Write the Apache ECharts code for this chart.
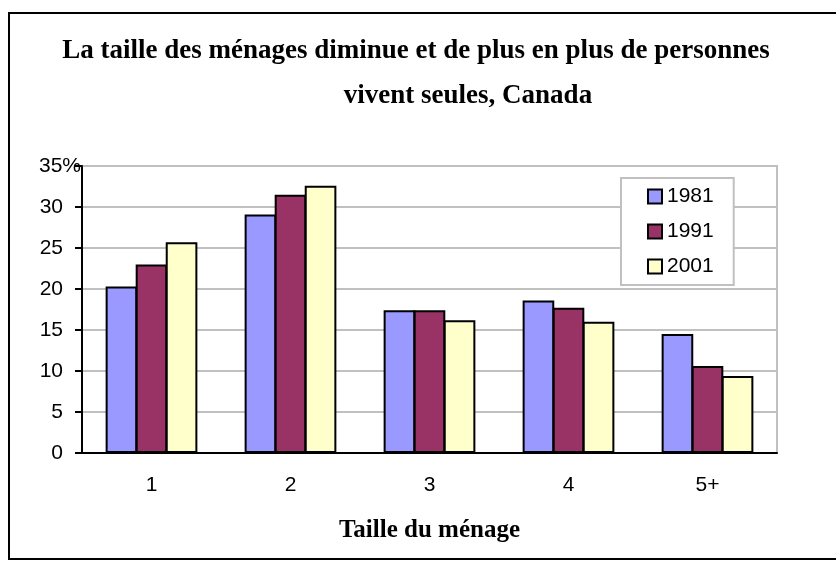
<!DOCTYPE html>
<html>
<head>
<meta charset="utf-8">
<script src="https://cdn.jsdelivr.net/npm/echarts@6/dist/echarts.min.js"></script>
<style>
  html, body { margin: 0; padding: 0; background: #fff; }
  #chart { width: 836px; height: 561px; }
</style>
</head>
<body>
<div id="chart"></div>
<script>
const categories = ['1', '2', '3', '4', '5+']
const years = ['1981', '1991', '2001']
const values1981 = [20.3, 29.1, 17.4, 18.6, 14.5]
const values1991 = [23.0, 31.5, 17.4, 17.7, 10.6]
const values2001 = [25.7, 32.6, 16.2, 16.0, 9.4]
const yTicks = [0, 5, 10, 15, 20, 25, 30, 35]

const colors = ['#9999ff', '#993366', '#ffffcc']
const serif = '"Liberation Serif", "Times New Roman", serif'
const sans = '"Liberation Sans", Arial, sans-serif'

const chart = echarts.init(document.getElementById('chart'))

const makeSeries = (name, data, i) => ({
  name: name,
  type: 'bar',
  data: data,
  barGap: '-5%',
  barCategoryGap: '34%',
  itemStyle: { color: colors[i], borderColor: '#000', borderWidth: 2 },
  emphasis: { disabled: true }
})

chart.setOption({
  animation: false,
  backgroundColor: '#fff',
  graphic: [
    {
      type: 'rect',
      shape: { x: 9, y: 13, width: 832, height: 546 },
      style: { fill: 'none', stroke: '#000', lineWidth: 2 },
      silent: true
    },
    {
      type: 'text',
      x: 416, y: 51,
      style: {
        text: 'La taille des ménages diminue et de plus en plus de personnes',
        font: 'bold 27px ' + serif,
        fill: '#000', align: 'center', verticalAlign: 'middle'
      }
    },
    {
      type: 'text',
      x: 468, y: 96,
      style: {
        text: 'vivent seules, Canada',
        font: 'bold 27px ' + serif,
        fill: '#000', align: 'center', verticalAlign: 'middle'
      }
    }
  ],
  legend: {
    orient: 'vertical',
    left: 621,
    top: 178,
    padding: [8, 20, 8, 26],
    itemGap: 14,
    itemWidth: 14,
    itemHeight: 14,
    icon: 'rect',
    backgroundColor: '#fff',
    borderColor: '#c0c0c0',
    borderWidth: 2,
    borderRadius: 0,
    data: years,
    textStyle: { fontFamily: sans, fontSize: 21, color: '#000' }
  },
  grid: {
    left: 82, right: 59, top: 166, bottom: 108,
    show: true, borderColor: '#c0c0c0', borderWidth: 2
  },
  xAxis: {
    type: 'category',
    data: categories,
    name: 'Taille du ménage',
    nameLocation: 'middle',
    nameGap: 65,
    nameTextStyle: { fontFamily: serif, fontWeight: 'bold', fontSize: 25, color: '#000' },
    axisLine: { lineStyle: { color: '#000', width: 2 } },
    axisTick: { alignWithLabel: false, length: 7, lineStyle: { color: '#000', width: 2 } },
    axisLabel: { margin: 22, fontFamily: sans, fontSize: 21, color: '#000' }
  },
  yAxis: {
    type: 'value',
    min: yTicks[0],
    max: yTicks[yTicks.length - 1],
    interval: 5,
    axisLine: { show: true, lineStyle: { color: '#000', width: 2 } },
    axisTick: { show: true, length: 7, lineStyle: { color: '#000', width: 2 } },
    splitLine: { lineStyle: { color: '#c0c0c0', width: 2 } },
    axisLabel: {
      margin: 1,
      fontFamily: sans,
      fontSize: 21,
      color: '#000',
      formatter: v => v === 35 ? '{p|35%}' : '{n|' + v + '}',
      rich: {
        n: { fontFamily: sans, fontSize: 21, color: '#000', padding: [0, 18, 0, 0] },
        p: { fontFamily: sans, fontSize: 21, color: '#000', padding: [0, 0, 0, 0] }
      }
    }
  },
  series: [
    makeSeries(years[0], values1981, 0),
    makeSeries(years[1], values1991, 1),
    makeSeries(years[2], values2001, 2)
  ]
})
</script>
</body>
</html>
